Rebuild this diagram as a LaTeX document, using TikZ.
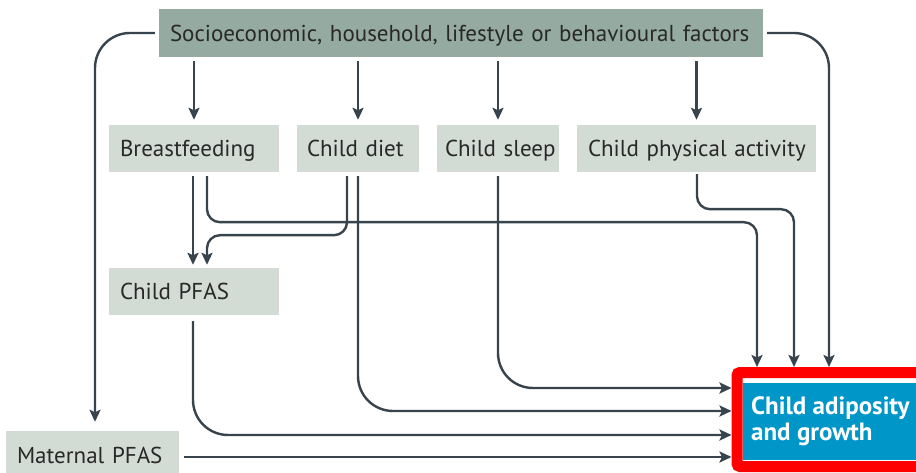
\documentclass[tikz,border=0pt]{standalone}
\usepackage{fontspec}
\setmainfont{PT Sans}
\usetikzlibrary{arrows.meta}
\definecolor{topfill}{RGB}{149,171,161}
\definecolor{boxfill}{RGB}{211,219,213}
\definecolor{linec}{RGB}{55,68,77}
\definecolor{txt}{RGB}{40,40,40}
\definecolor{blueb}{RGB}{0,150,200}
\tikzset{
  fbox/.style={fill=boxfill, draw=none, inner xsep=11pt, inner ysep=0pt, minimum height=47pt, text height=16.5pt, text depth=0pt, text=txt, align=left, anchor=center},
  topbox/.style={fbox, fill=topfill, minimum height=48pt},
  conn/.style={draw=linec, line width=2.4pt, -{Stealth[length=12pt,width=11pt,inset=2.5pt]}, shorten <=4pt},
  bigr/.style={rounded corners=35pt},
  smallr/.style={rounded corners=13pt},
}
\begin{document}
\begin{tikzpicture}[x=1pt,y=-1pt, font=\fontsize{23}{27}\selectfont]
\useasboundingbox (0,0) rectangle (916,473);
\fill[white] (0,0) rectangle (916,473);
% nodes
\node[topbox, text width=582pt] (top) at (461,33) {\mbox{Socioeconomic, household, lifestyle or behavioural factors}};
\node[fbox, text width=148pt] (bf) at (194,148.5) {\mbox{Breastfeeding}};
\node[fbox, inner xsep=10pt, text width=102pt] (diet) at (358,148.5) {\mbox{Child diet}};
\node[fbox, inner xsep=8pt, text width=106pt] (sleep) at (498,148.5) {\mbox{Child sleep}};
\node[fbox, text width=217pt] (pa) at (696.5,148.5) {\mbox{Child physical activity}};
\node[fbox, text width=148pt] (cpfas) at (194,291.5) {\mbox{Child PFAS}};
\node[fbox, text width=151pt, minimum height=48pt] (mpfas) at (92.5,455) {\mbox{Maternal PFAS}};
\node[fill=blueb, minimum width=190pt, minimum height=77pt, inner sep=0pt] (tgt) at (838,421.5) {};
\node[anchor=west, text=white, align=left, inner sep=0pt, font=\fontsize{25}{26}\selectfont\bfseries] (tgttext) at (751,421) {Child adiposity\\and growth};
\node[draw=red, line width=11pt, rounded corners=3pt, minimum width=188pt, minimum height=94pt, inner sep=0pt] (hl) at (831,419.5) {};
% rail coordinates
\coordinate (r388) at (0,388);
\coordinate (r411) at (0,411);
\coordinate (r435) at (0,435);
\coordinate (r457) at (0,457);
\coordinate (c757) at (757,0);
\coordinate (c794) at (794,0);
\coordinate (c829) at (829,0);
% connectors from top
\foreach \n in {bf,diet,sleep,pa}
  \draw[conn, shorten >=5pt] (top.south -| \n.north) -- (\n.north);
\draw[conn, bigr, shorten >=9pt] (top.west) -| ([xshift=2.5pt]mpfas.north);
\draw[conn, bigr] (top.east) -| (c829 |- hl.north);
% breastfeeding
\draw[conn, shorten >=3pt] ([xshift=-1pt]bf.south) -- ([xshift=-1pt]cpfas.north);
\draw[conn, smallr] ([xshift=13pt]bf.south) -- ++(0,50) -| (c757 |- hl.north);
% child diet
\draw[conn, smallr, shorten >=3pt] ([xshift=-11pt]diet.south) -- ++(0,63) -| ([xshift=13pt]cpfas.north);
\draw[conn, bigr] (diet.south) |- (hl.west |- r411);
% child sleep
\draw[conn, bigr] (sleep.south) |- (hl.west |- r388);
% physical activity
\draw[conn, smallr, shorten <=2pt] ([xshift=0.5pt]pa.south) -- ++(0,37) -| (c794 |- hl.north);
% child PFAS
\draw[conn, bigr, shorten <=6pt] ([xshift=-1pt]cpfas.south) |- (hl.west |- r435);
% maternal PFAS
\draw[conn, shorten <=5pt] (mpfas.east |- r457) -- (hl.west |- r457);
\end{tikzpicture}
\end{document}
